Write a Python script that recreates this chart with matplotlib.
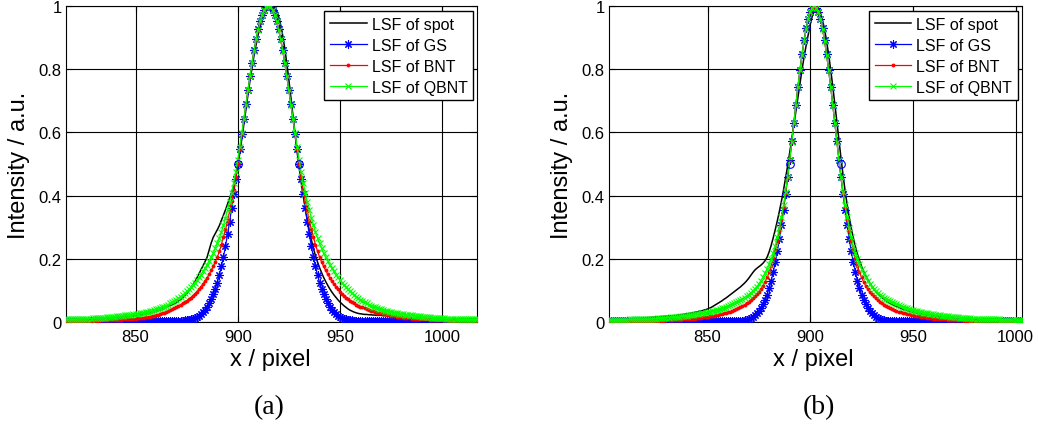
import numpy as np
import matplotlib
matplotlib.use("Agg")
import matplotlib.pyplot as plt

# ---------------- data: panel (a) ----------------
x_a = np.arange(816, 1018)

spot_a = [
    0.006, 0.006, 0.006, 0.007, 0.007, 0.007, 0.007, 0.008, 0.008, 0.008,
    0.008, 0.009, 0.009, 0.009, 0.010, 0.010, 0.010, 0.011, 0.011, 0.011,
    0.012, 0.012, 0.013, 0.013, 0.014, 0.014, 0.015, 0.015, 0.016, 0.016,
    0.017, 0.018, 0.018, 0.019, 0.020, 0.021, 0.022, 0.023, 0.024, 0.025,
    0.027, 0.028, 0.030, 0.032, 0.034, 0.036, 0.038, 0.041, 0.043, 0.046,
    0.049, 0.052, 0.055, 0.058, 0.062, 0.067, 0.071, 0.076, 0.083, 0.090,
    0.098, 0.107, 0.117, 0.127, 0.139, 0.152, 0.165, 0.178, 0.191, 0.205,
    0.228, 0.250, 0.268, 0.280, 0.292, 0.305, 0.322, 0.338, 0.355, 0.373,
    0.392, 0.410, 0.430, 0.458, 0.492, 0.535, 0.580, 0.627, 0.674, 0.720,
    0.765, 0.806, 0.845, 0.879, 0.910, 0.936, 0.957, 0.974, 0.986, 0.994,
    0.999, 1.000, 0.996, 0.985, 0.966, 0.940, 0.906, 0.865, 0.818, 0.766,
    0.710, 0.652, 0.595, 0.540, 0.490, 0.443, 0.400, 0.360, 0.323, 0.290,
    0.260, 0.233, 0.210, 0.190, 0.172, 0.156, 0.141, 0.128, 0.116, 0.105,
    0.095, 0.086, 0.078, 0.070, 0.063, 0.057, 0.051, 0.046, 0.041, 0.037,
    0.034, 0.031, 0.029, 0.027, 0.026, 0.025, 0.024, 0.024, 0.023, 0.023,
    0.022, 0.022, 0.021, 0.021, 0.021, 0.020, 0.020, 0.020, 0.019, 0.019,
    0.018, 0.018, 0.017, 0.017, 0.016, 0.016, 0.015, 0.015, 0.014, 0.013,
    0.013, 0.012, 0.012, 0.011, 0.011, 0.010, 0.010, 0.009, 0.009, 0.008,
    0.008, 0.008, 0.007, 0.007, 0.007, 0.006, 0.006, 0.006, 0.006, 0.005,
    0.005, 0.005, 0.005, 0.005, 0.004, 0.004, 0.004, 0.004, 0.004, 0.004,
    0.004, 0.004,
]

gs_a = [
    0.002, 0.002, 0.002, 0.002, 0.002, 0.002, 0.002, 0.002, 0.002, 0.002,
    0.002, 0.002, 0.002, 0.002, 0.002, 0.002, 0.002, 0.002, 0.002, 0.002,
    0.002, 0.002, 0.002, 0.002, 0.002, 0.002, 0.002, 0.002, 0.002, 0.002,
    0.002, 0.002, 0.002, 0.002, 0.002, 0.002, 0.002, 0.002, 0.002, 0.002,
    0.002, 0.002, 0.002, 0.002, 0.002, 0.002, 0.002, 0.002, 0.002, 0.002,
    0.002, 0.002, 0.002, 0.002, 0.002, 0.003, 0.003, 0.004, 0.005, 0.006,
    0.007, 0.009, 0.011, 0.013, 0.016, 0.020, 0.025, 0.031, 0.039, 0.049,
    0.060, 0.073, 0.088, 0.105, 0.125, 0.149, 0.176, 0.206, 0.240, 0.277,
    0.317, 0.360, 0.405, 0.452, 0.500, 0.547, 0.594, 0.642, 0.689, 0.735,
    0.779, 0.821, 0.860, 0.895, 0.926, 0.952, 0.973, 0.988, 0.997, 1.000,
    0.997, 0.988, 0.973, 0.952, 0.926, 0.895, 0.860, 0.821, 0.779, 0.735,
    0.689, 0.642, 0.594, 0.547, 0.500, 0.452, 0.405, 0.360, 0.317, 0.277,
    0.240, 0.206, 0.176, 0.149, 0.125, 0.105, 0.088, 0.073, 0.060, 0.049,
    0.039, 0.031, 0.025, 0.020, 0.016, 0.013, 0.011, 0.009, 0.007, 0.006,
    0.005, 0.004, 0.003, 0.003, 0.002, 0.002, 0.002, 0.002, 0.002, 0.002,
    0.002, 0.002, 0.002, 0.002, 0.002, 0.002, 0.002, 0.002, 0.002, 0.002,
    0.002, 0.002, 0.002, 0.002, 0.002, 0.002, 0.002, 0.002, 0.002, 0.002,
    0.002, 0.002, 0.002, 0.002, 0.002, 0.002, 0.002, 0.002, 0.002, 0.002,
    0.002, 0.002, 0.002, 0.002, 0.002, 0.002, 0.002, 0.002, 0.002, 0.002,
    0.002, 0.002, 0.002, 0.002, 0.002, 0.002, 0.002, 0.002, 0.002, 0.002,
    0.002, 0.002,
]

bnt_a = [
    0.002, 0.002, 0.002, 0.003, 0.003, 0.003, 0.003, 0.003, 0.003, 0.003,
    0.003, 0.003, 0.004, 0.004, 0.004, 0.004, 0.004, 0.005, 0.005, 0.005,
    0.005, 0.006, 0.006, 0.006, 0.006, 0.007, 0.007, 0.007, 0.008, 0.008,
    0.009, 0.009, 0.010, 0.010, 0.011, 0.012, 0.012, 0.013, 0.014, 0.015,
    0.016, 0.017, 0.018, 0.020, 0.021, 0.023, 0.025, 0.027, 0.029, 0.032,
    0.035, 0.038, 0.041, 0.044, 0.047, 0.051, 0.055, 0.059, 0.063, 0.067,
    0.072, 0.077, 0.083, 0.089, 0.096, 0.103, 0.111, 0.120, 0.130, 0.140,
    0.151, 0.163, 0.176, 0.190, 0.205, 0.224, 0.245, 0.268, 0.293, 0.320,
    0.350, 0.383, 0.419, 0.458, 0.500, 0.547, 0.594, 0.641, 0.688, 0.733,
    0.777, 0.819, 0.858, 0.893, 0.924, 0.950, 0.971, 0.987, 0.997, 1.000,
    0.997, 0.987, 0.971, 0.950, 0.924, 0.893, 0.858, 0.819, 0.777, 0.733,
    0.688, 0.641, 0.594, 0.547, 0.500, 0.458, 0.419, 0.383, 0.350, 0.320,
    0.293, 0.268, 0.245, 0.224, 0.205, 0.190, 0.176, 0.163, 0.151, 0.140,
    0.130, 0.120, 0.111, 0.103, 0.096, 0.089, 0.083, 0.077, 0.072, 0.067,
    0.063, 0.059, 0.055, 0.052, 0.049, 0.046, 0.043, 0.040, 0.038, 0.036,
    0.034, 0.032, 0.030, 0.028, 0.027, 0.025, 0.024, 0.022, 0.021, 0.020,
    0.019, 0.018, 0.017, 0.016, 0.015, 0.014, 0.013, 0.013, 0.012, 0.011,
    0.011, 0.010, 0.010, 0.009, 0.009, 0.008, 0.008, 0.008, 0.007, 0.007,
    0.007, 0.006, 0.006, 0.006, 0.005, 0.005, 0.005, 0.005, 0.004, 0.004,
    0.004, 0.004, 0.004, 0.003, 0.003, 0.003, 0.003, 0.003, 0.003, 0.003,
    0.003, 0.002,
]

qbnt_a = [
    0.008, 0.008, 0.009, 0.009, 0.009, 0.009, 0.010, 0.010, 0.010, 0.010,
    0.011, 0.011, 0.011, 0.012, 0.012, 0.013, 0.013, 0.013, 0.014, 0.014,
    0.015, 0.015, 0.016, 0.016, 0.017, 0.018, 0.018, 0.019, 0.020, 0.021,
    0.021, 0.022, 0.023, 0.024, 0.025, 0.026, 0.027, 0.029, 0.030, 0.031,
    0.033, 0.034, 0.036, 0.038, 0.040, 0.042, 0.044, 0.047, 0.049, 0.052,
    0.055, 0.059, 0.062, 0.066, 0.071, 0.075, 0.080, 0.085, 0.091, 0.097,
    0.103, 0.110, 0.117, 0.125, 0.133, 0.141, 0.150, 0.160, 0.170, 0.181,
    0.193, 0.205, 0.218, 0.233, 0.249, 0.266, 0.284, 0.306, 0.329, 0.354,
    0.380, 0.409, 0.441, 0.476, 0.514, 0.555, 0.598, 0.643, 0.688, 0.734,
    0.778, 0.820, 0.859, 0.894, 0.925, 0.951, 0.972, 0.988, 0.997, 1.000,
    0.997, 0.988, 0.972, 0.951, 0.925, 0.894, 0.859, 0.820, 0.778, 0.734,
    0.688, 0.643, 0.598, 0.555, 0.514, 0.476, 0.441, 0.409, 0.380, 0.354,
    0.329, 0.306, 0.284, 0.266, 0.249, 0.233, 0.218, 0.205, 0.193, 0.181,
    0.170, 0.160, 0.150, 0.141, 0.133, 0.125, 0.117, 0.110, 0.103, 0.097,
    0.091, 0.085, 0.080, 0.075, 0.071, 0.066, 0.062, 0.059, 0.055, 0.052,
    0.049, 0.047, 0.044, 0.042, 0.040, 0.038, 0.036, 0.034, 0.033, 0.031,
    0.030, 0.029, 0.027, 0.026, 0.025, 0.024, 0.023, 0.022, 0.021, 0.021,
    0.020, 0.019, 0.018, 0.018, 0.017, 0.016, 0.016, 0.015, 0.015, 0.014,
    0.014, 0.013, 0.013, 0.013, 0.012, 0.012, 0.011, 0.011, 0.011, 0.010,
    0.010, 0.010, 0.010, 0.009, 0.009, 0.009, 0.009, 0.008, 0.008, 0.008,
    0.008, 0.008,
]

half_a_x = [900, 930]
half_a_y = [0.5, 0.5]

# ---------------- data: panel (b) ----------------
x_b = np.arange(802, 1004)

spot_b = [
    0.006, 0.006, 0.006, 0.007, 0.007, 0.007, 0.008, 0.008, 0.008, 0.009,
    0.009, 0.010, 0.010, 0.011, 0.011, 0.012, 0.012, 0.013, 0.013, 0.014,
    0.014, 0.015, 0.015, 0.016, 0.016, 0.017, 0.017, 0.018, 0.018, 0.019,
    0.019, 0.020, 0.020, 0.021, 0.022, 0.023, 0.024, 0.025, 0.026, 0.027,
    0.028, 0.029, 0.031, 0.032, 0.034, 0.035, 0.037, 0.039, 0.041, 0.044,
    0.047, 0.051, 0.055, 0.059, 0.063, 0.067, 0.072, 0.076, 0.081, 0.086,
    0.091, 0.096, 0.101, 0.106, 0.111, 0.117, 0.123, 0.130, 0.138, 0.147,
    0.156, 0.164, 0.170, 0.175, 0.180, 0.186, 0.194, 0.205, 0.222, 0.243,
    0.267, 0.293, 0.321, 0.351, 0.383, 0.418, 0.455, 0.494, 0.535, 0.578,
    0.622, 0.667, 0.712, 0.756, 0.798, 0.838, 0.875, 0.908, 0.942, 0.968,
    0.988, 1.000, 0.993, 0.978, 0.955, 0.925, 0.888, 0.845, 0.797, 0.745,
    0.690, 0.633, 0.575, 0.518, 0.464, 0.415, 0.371, 0.332, 0.297, 0.266,
    0.239, 0.215, 0.194, 0.176, 0.160, 0.146, 0.134, 0.123, 0.113, 0.104,
    0.096, 0.089, 0.083, 0.077, 0.072, 0.067, 0.063, 0.059, 0.055, 0.052,
    0.049, 0.046, 0.043, 0.041, 0.039, 0.037, 0.035, 0.033, 0.031, 0.030,
    0.028, 0.027, 0.026, 0.024, 0.023, 0.022, 0.021, 0.020, 0.019, 0.019,
    0.018, 0.017, 0.016, 0.016, 0.015, 0.015, 0.014, 0.014, 0.013, 0.013,
    0.012, 0.012, 0.011, 0.011, 0.011, 0.010, 0.010, 0.010, 0.009, 0.009,
    0.009, 0.008, 0.008, 0.008, 0.008, 0.007, 0.007, 0.007, 0.007, 0.006,
    0.006, 0.006, 0.006, 0.006, 0.005, 0.005, 0.005, 0.005, 0.005, 0.005,
    0.005, 0.005,
]

gs_b = [
    0.002, 0.002, 0.002, 0.002, 0.002, 0.002, 0.002, 0.002, 0.002, 0.002,
    0.002, 0.002, 0.002, 0.002, 0.002, 0.002, 0.002, 0.002, 0.002, 0.002,
    0.002, 0.002, 0.002, 0.002, 0.002, 0.002, 0.002, 0.002, 0.002, 0.002,
    0.002, 0.002, 0.002, 0.002, 0.002, 0.002, 0.002, 0.002, 0.002, 0.002,
    0.002, 0.002, 0.002, 0.002, 0.002, 0.002, 0.002, 0.002, 0.002, 0.002,
    0.002, 0.002, 0.002, 0.002, 0.002, 0.002, 0.002, 0.002, 0.002, 0.002,
    0.002, 0.002, 0.002, 0.003, 0.003, 0.004, 0.005, 0.007, 0.009, 0.012,
    0.016, 0.021, 0.027, 0.034, 0.044, 0.056, 0.070, 0.087, 0.107, 0.130,
    0.158, 0.189, 0.224, 0.263, 0.306, 0.354, 0.404, 0.458, 0.514, 0.572,
    0.630, 0.688, 0.744, 0.797, 0.847, 0.891, 0.929, 0.959, 0.982, 0.995,
    1.000, 0.995, 0.982, 0.959, 0.929, 0.891, 0.847, 0.797, 0.744, 0.688,
    0.630, 0.572, 0.514, 0.458, 0.404, 0.354, 0.306, 0.263, 0.224, 0.189,
    0.158, 0.130, 0.107, 0.087, 0.070, 0.056, 0.044, 0.034, 0.027, 0.021,
    0.016, 0.012, 0.009, 0.007, 0.005, 0.004, 0.003, 0.003, 0.002, 0.002,
    0.002, 0.002, 0.002, 0.002, 0.002, 0.002, 0.002, 0.002, 0.002, 0.002,
    0.002, 0.002, 0.002, 0.002, 0.002, 0.002, 0.002, 0.002, 0.002, 0.002,
    0.002, 0.002, 0.002, 0.002, 0.002, 0.002, 0.002, 0.002, 0.002, 0.002,
    0.002, 0.002, 0.002, 0.002, 0.002, 0.002, 0.002, 0.002, 0.002, 0.002,
    0.002, 0.002, 0.002, 0.002, 0.002, 0.002, 0.002, 0.002, 0.002, 0.002,
    0.002, 0.002, 0.002, 0.002, 0.002, 0.002, 0.002, 0.002, 0.002, 0.002,
    0.002, 0.002,
]

bnt_b = [
    0.002, 0.002, 0.002, 0.002, 0.002, 0.002, 0.002, 0.002, 0.002, 0.002,
    0.002, 0.002, 0.002, 0.002, 0.002, 0.002, 0.002, 0.002, 0.002, 0.002,
    0.003, 0.003, 0.003, 0.003, 0.003, 0.004, 0.004, 0.004, 0.005, 0.005,
    0.005, 0.006, 0.006, 0.006, 0.007, 0.007, 0.008, 0.008, 0.009, 0.009,
    0.010, 0.011, 0.011, 0.012, 0.013, 0.014, 0.015, 0.016, 0.017, 0.018,
    0.019, 0.020, 0.021, 0.022, 0.024, 0.025, 0.027, 0.029, 0.031, 0.033,
    0.035, 0.038, 0.041, 0.044, 0.047, 0.051, 0.055, 0.059, 0.064, 0.069,
    0.075, 0.081, 0.088, 0.096, 0.105, 0.115, 0.127, 0.141, 0.158, 0.178,
    0.201, 0.227, 0.256, 0.288, 0.324, 0.364, 0.408, 0.457, 0.512, 0.570,
    0.629, 0.687, 0.743, 0.796, 0.845, 0.889, 0.927, 0.958, 0.981, 0.995,
    1.000, 0.995, 0.981, 0.958, 0.927, 0.889, 0.845, 0.796, 0.743, 0.687,
    0.629, 0.570, 0.512, 0.457, 0.408, 0.364, 0.324, 0.288, 0.256, 0.227,
    0.201, 0.178, 0.158, 0.141, 0.127, 0.115, 0.105, 0.096, 0.088, 0.081,
    0.075, 0.069, 0.064, 0.059, 0.055, 0.051, 0.047, 0.044, 0.041, 0.038,
    0.035, 0.033, 0.031, 0.029, 0.027, 0.025, 0.024, 0.022, 0.021, 0.020,
    0.019, 0.018, 0.017, 0.016, 0.015, 0.014, 0.013, 0.012, 0.011, 0.011,
    0.010, 0.009, 0.009, 0.008, 0.008, 0.007, 0.007, 0.006, 0.006, 0.006,
    0.005, 0.005, 0.005, 0.004, 0.004, 0.004, 0.003, 0.003, 0.003, 0.003,
    0.003, 0.002, 0.002, 0.002, 0.002, 0.002, 0.002, 0.002, 0.002, 0.002,
    0.002, 0.002, 0.002, 0.002, 0.002, 0.002, 0.002, 0.002, 0.002, 0.002,
    0.002, 0.002,
]

qbnt_b = [
    0.006, 0.006, 0.006, 0.006, 0.006, 0.007, 0.007, 0.007, 0.007, 0.007,
    0.008, 0.008, 0.008, 0.008, 0.009, 0.009, 0.009, 0.009, 0.010, 0.010,
    0.010, 0.011, 0.011, 0.011, 0.012, 0.012, 0.013, 0.013, 0.014, 0.014,
    0.015, 0.015, 0.016, 0.017, 0.017, 0.018, 0.019, 0.019, 0.020, 0.021,
    0.022, 0.023, 0.024, 0.025, 0.026, 0.027, 0.028, 0.029, 0.031, 0.032,
    0.034, 0.035, 0.037, 0.039, 0.041, 0.043, 0.045, 0.048, 0.050, 0.053,
    0.056, 0.059, 0.062, 0.065, 0.069, 0.073, 0.077, 0.082, 0.087, 0.092,
    0.098, 0.105, 0.112, 0.121, 0.131, 0.142, 0.154, 0.167, 0.182, 0.198,
    0.218, 0.241, 0.268, 0.298, 0.332, 0.370, 0.412, 0.459, 0.512, 0.570,
    0.629, 0.687, 0.743, 0.796, 0.845, 0.889, 0.927, 0.958, 0.981, 0.995,
    1.000, 0.995, 0.981, 0.958, 0.927, 0.889, 0.845, 0.796, 0.743, 0.687,
    0.629, 0.570, 0.512, 0.459, 0.412, 0.370, 0.332, 0.298, 0.268, 0.241,
    0.218, 0.198, 0.182, 0.167, 0.154, 0.142, 0.131, 0.121, 0.112, 0.105,
    0.098, 0.092, 0.087, 0.082, 0.077, 0.073, 0.069, 0.065, 0.062, 0.059,
    0.056, 0.053, 0.050, 0.048, 0.045, 0.043, 0.041, 0.039, 0.037, 0.035,
    0.034, 0.032, 0.031, 0.029, 0.028, 0.027, 0.026, 0.025, 0.024, 0.023,
    0.022, 0.021, 0.020, 0.019, 0.019, 0.018, 0.017, 0.017, 0.016, 0.015,
    0.015, 0.014, 0.014, 0.013, 0.013, 0.012, 0.012, 0.011, 0.011, 0.011,
    0.010, 0.010, 0.010, 0.009, 0.009, 0.009, 0.009, 0.008, 0.008, 0.008,
    0.008, 0.007, 0.007, 0.007, 0.007, 0.007, 0.006, 0.006, 0.006, 0.006,
    0.006, 0.006,
]

half_b_x = [890, 914.8]
half_b_y = [0.5, 0.5]

# ---------------- labels / ticks ----------------
series_labels = ["LSF of spot", "LSF of GS", "LSF of BNT", "LSF of QBNT"]
x_ticks = [850, 900, 950, 1000]
y_ticks = [0, 0.2, 0.4, 0.6, 0.8, 1]
y_tick_labels = ["0", "0.2", "0.4", "0.6", "0.8", "1"]
x_label = "x / pixel"
y_label = "Intensity / a.u."
panel_labels = ["(a)", "(b)"]

for arr in (spot_a, gs_a, bnt_a, qbnt_a):
    assert len(arr) == len(x_a), len(arr)
for arr in (spot_b, gs_b, bnt_b, qbnt_b):
    assert len(arr) == len(x_b), len(arr)

plt.rcParams["font.family"] = ["Liberation Sans", "DejaVu Sans"]

W, H = 1038, 427
fig = plt.figure(figsize=(W / 100, H / 100), dpi=100)
fig.patch.set_facecolor("white")


def panel(rect_px, x, spot, gs, bnt, qbnt, hx, hy, caption, cap_x):
    left, top, width, height = rect_px
    ax = fig.add_axes([left / W, 1 - (top + height) / H, width / W, height / H])
    ax.plot(x, spot, color="k", lw=1.1, label=series_labels[0], zorder=3)
    ax.plot(x, gs, color=(0, 0, 1), lw=0.9, marker=(8, 2, 0), ms=6.0,
            mew=0.8, label=series_labels[1], zorder=4)
    ax.plot(x, bnt, color=(1, 0, 0), lw=0.9, marker="o", ms=2.8, mew=0,
            label=series_labels[2], zorder=5)
    ax.plot(x, qbnt, color=(0, 1, 0), lw=0.9, marker="x", ms=4.3, mew=0.8,
            label=series_labels[3], zorder=6)
    ax.plot(hx, hy, linestyle="none", marker="o", mfc="none", mec=(0, 0, 1),
            ms=5.5, mew=0.8, zorder=7)
    ax.set_xlim(x[0], x[-1])
    ax.set_ylim(0, 1)
    ax.set_xticks(x_ticks)
    ax.set_yticks(y_ticks)
    ax.set_yticklabels(y_tick_labels)
    ax.grid(True, color="k", lw=0.8, ls="-")
    ax.set_axisbelow(True)
    for s in ax.spines.values():
        s.set_linewidth(0.8)
    ax.tick_params(direction="in", top=True, right=True, length=4, width=0.8,
                   labelsize=12)
    ax.tick_params(axis="y", pad=3)
    ax.tick_params(axis="x", pad=5)
    ax.set_xlabel(x_label, fontsize=17)
    ax.set_ylabel(y_label, fontsize=17)
    ax.xaxis.label.set_verticalalignment("center")
    ax.yaxis.label.set_verticalalignment("center")
    ax.xaxis.set_label_coords(0.496, (top + height - 360) / height)
    ax.yaxis.set_label_coords((cap_x[1] - left) / width, 0.5)
    leg = ax.legend(loc="upper right",
                    bbox_to_anchor=(1 - 4 / width, 1 - 5 / height),
                    borderaxespad=0, fontsize=11.5, handlelength=2.3,
                    handletextpad=0.3, borderpad=0.35, labelspacing=0.38,
                    fancybox=False, framealpha=1, edgecolor="k", numpoints=1)
    leg.get_frame().set_linewidth(1.0)
    fig.text(cap_x[0] / W, 1 - 408 / H, caption, family="Liberation Serif",
             fontsize=20, ha="center", va="center")
    return ax


panel((66, 7, 411, 316), x_a, spot_a, gs_a, bnt_a, qbnt_a, half_a_x, half_a_y,
      panel_labels[0], (269, 19))
panel((609, 7, 412.7, 316), x_b, spot_b, gs_b, bnt_b, qbnt_b, half_b_x, half_b_y,
      panel_labels[1], (819, 562))

fig.savefig("out.png", dpi=100)
